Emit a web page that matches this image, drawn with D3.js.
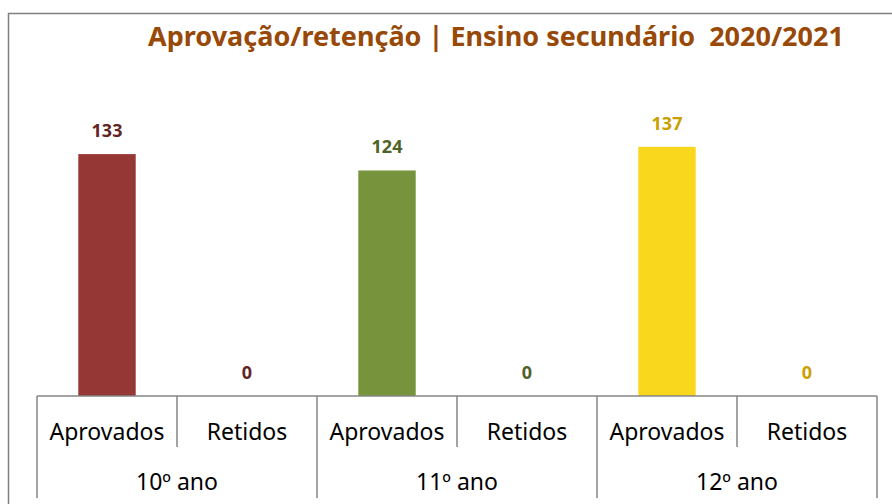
<!DOCTYPE html>
<html>
<head>
<meta charset="utf-8">
<script src="https://cdn.jsdelivr.net/npm/d3@7"></script>
<style>
  body { margin: 0; background: #fff; }
  text { font-family: "Noto Sans", "Open Sans", sans-serif; }
</style>
</head>
<body>
<svg id="canvas"></svg>
<script>
"use strict";

// Data
const years = ["10º ano", "11º ano", "12º ano"];
const statuses = ["Aprovados", "Retidos"];
const aprovados = [133, 124, 137];
const retidos = [0, 0, 0];

// Colors per year
const barColors = ["#953735", "#77933c", "#f9d71c"];
const labelColors = ["#632523", "#4f6228", "#c9a000"];

const width = 892;
const height = 504;
const axisY = 396;

const canvas = d3.select('#canvas')
    .attr('width', width)
    .attr('height', height);

// Outer frame (only left and top edges are visible)
canvas.append('path')
    .attr('d', `M8.5,${height} L8.5,13.5 L${width},13.5`)
    .attr('fill', 'none')
    .attr('stroke', '#7f7f7f')
    .attr('stroke-width', 1.5);

// Title
canvas.append('text')
    .attr('x', 496)
    .attr('y', 46)
    .attr('text-anchor', 'middle')
    .attr('font-size', '27px')
    .attr('font-weight', 'bold')
    .attr('fill', '#984807')
    .attr('xml:space', 'preserve')
    .text('Aprovação/retenção | Ensino secundário  2020/2021');

const x0 = d3.scaleBand()
    .domain(years)
    .range([37, 877]);

// slot for each status inside a year
const x1Outer = d3.scaleBand()
    .domain(statuses)
    .range([0, x0.bandwidth()]);

// bar inside each slot, centered
const x1 = d3.scaleBand()
    .domain(statuses)
    .range([0, x0.bandwidth()])
    .paddingInner(0.59)
    .paddingOuter(0.295);

const y = d3.scaleLinear()
    .domain([0, 160])
    .range([axisY, 105]);

const rows = [];
years.forEach((yr, i) => {
    rows.push({ year: yr, status: "Aprovados", value: aprovados[i], idx: i });
    rows.push({ year: yr, status: "Retidos", value: retidos[i], idx: i });
});

// Bars
canvas.selectAll('rect.bar')
    .data(rows)
    .enter()
    .append('rect')
    .attr('class', 'bar')
    .attr('x', d => x0(d.year) + x1(d.status))
    .attr('y', d => y(d.value))
    .attr('width', x1.bandwidth())
    .attr('height', d => axisY - y(d.value))
    .attr('fill', d => barColors[d.idx]);

// Value labels
canvas.selectAll('text.value')
    .data(rows)
    .enter()
    .append('text')
    .attr('class', 'value')
    .attr('x', d => x0(d.year) + x1(d.status) + x1.bandwidth() / 2)
    .attr('y', d => y(d.value) - 17)
    .attr('text-anchor', 'middle')
    .attr('font-size', '18px')
    .attr('font-weight', 'bold')
    .attr('fill', d => labelColors[d.idx])
    .text(d => d.value);

// Category axis
const axis = canvas.append('g')
    .attr('stroke', '#868686')
    .attr('stroke-width', 1.5);

axis.append('line')
    .attr('x1', x0.range()[0])
    .attr('x2', x0.range()[1])
    .attr('y1', axisY)
    .attr('y2', axisY);

// Long ticks between years
const longTicks = years.map(yr => x0(yr)).concat([x0.range()[1]]);
axis.selectAll('line.long')
    .data(longTicks)
    .enter()
    .append('line')
    .attr('x1', d => d)
    .attr('x2', d => d)
    .attr('y1', axisY)
    .attr('y2', 498);

// Short ticks between statuses
axis.selectAll('line.short')
    .data(years)
    .enter()
    .append('line')
    .attr('x1', d => x0(d) + x1Outer("Retidos"))
    .attr('x2', d => x0(d) + x1Outer("Retidos"))
    .attr('y1', axisY)
    .attr('y2', 447);

// Status labels
canvas.selectAll('text.status')
    .data(rows)
    .enter()
    .append('text')
    .attr('class', 'status')
    .attr('x', d => x0(d.year) + x1Outer(d.status) + x1Outer.bandwidth() / 2)
    .attr('y', 440)
    .attr('text-anchor', 'middle')
    .attr('font-size', '23px')
    .attr('fill', '#000')
    .text(d => d.status);

// Year labels
canvas.selectAll('text.year')
    .data(years)
    .enter()
    .append('text')
    .attr('class', 'year')
    .attr('x', d => x0(d) + x0.bandwidth() / 2)
    .attr('y', 490)
    .attr('text-anchor', 'middle')
    .attr('font-size', '23px')
    .attr('fill', '#000')
    .text(d => d);
</script>
</body>
</html>
